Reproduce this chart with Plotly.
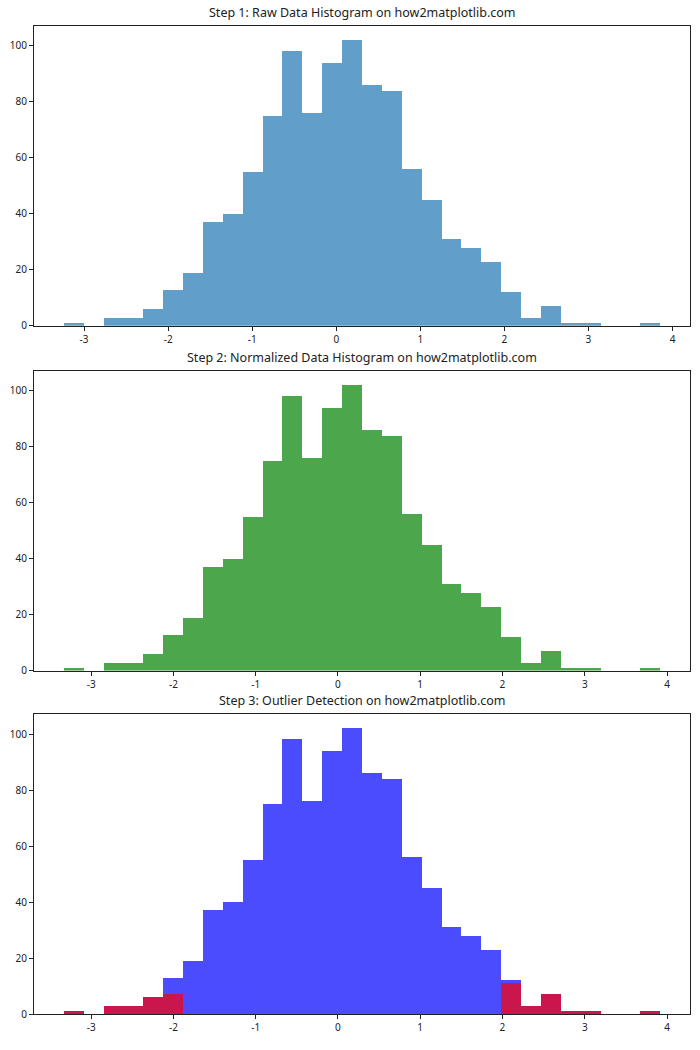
import numpy as np
import plotly.graph_objects as go

# ---- data ----
counts = [1, 0, 3, 3, 6, 13, 19, 37, 40, 55, 75, 98, 76, 94, 102,
          86, 84, 56, 45, 31, 28, 23, 12, 3, 7, 1, 1, 0, 0, 1]
outlier_counts = [1, 0, 3, 3, 6, 7, 0, 0, 0, 0, 0, 0, 0, 0, 0,
                  0, 0, 0, 0, 0, 0, 0, 11, 3, 7, 1, 1, 0, 0, 1]
raw_range = [-3.241, 3.853]
norm_range = [-3.332, 3.917]
titles = ["Step 1: Raw Data Histogram on how2matplotlib.com",
          "Step 2: Normalized Data Histogram on how2matplotlib.com",
          "Step 3: Outlier Detection on how2matplotlib.com"]
x_ticks = [-3, -2, -1, 0, 1, 2, 3, 4]
x_tick_labels = ["-3", "-2", "-1", "0", "1", "2", "3", "4"]
y_ticks = [0, 20, 40, 60, 80, 100]

W, H = 700, 1050
FONT = "Noto Sans"


def bins(rng, n):
    edges = np.linspace(rng[0], rng[1], n + 1)
    return (edges[:-1] + edges[1:]) / 2, edges[1] - edges[0]


def pad(rng):
    span = rng[1] - rng[0]
    return [rng[0] - 0.05 * span, rng[1] + 0.05 * span]


fig = go.Figure()

raw_c, raw_w = bins(raw_range, len(counts))
norm_c, norm_w = bins(norm_range, len(counts))

fig.add_trace(go.Bar(x=raw_c, y=counts, width=raw_w, marker=dict(color="#1f77b4", line_width=0),
                     opacity=0.7, xaxis="x", yaxis="y"))
fig.add_trace(go.Bar(x=norm_c, y=counts, width=norm_w, marker=dict(color="green", line_width=0),
                     opacity=0.7, xaxis="x2", yaxis="y2"))
fig.add_trace(go.Bar(x=norm_c, y=counts, width=norm_w, marker=dict(color="blue", line_width=0),
                     opacity=0.7, xaxis="x3", yaxis="y3"))
fig.add_trace(go.Bar(x=norm_c, y=outlier_counts, width=norm_w, marker=dict(color="red", line_width=0),
                     opacity=0.7, xaxis="x3", yaxis="y3"))

# pixel boxes of the three axes (top, bottom)
left_px, right_px = 34, 690
boxes = [(26, 328), (373, 675), (719, 1021)]
xdom = [left_px / W, right_px / W]

axis_common = dict(showgrid=False, zeroline=False, showline=True, mirror=True,
                   linecolor="#222222", linewidth=1, ticks="outside", ticklen=4,
                   tickcolor="#222222", tickwidth=1,
                   tickfont=dict(family=FONT, size=10, color="#222222"))

ymax = max(counts) * 1.05
layout = dict(width=W, height=H, margin=dict(l=0, r=0, t=0, b=0),
              plot_bgcolor="white", paper_bgcolor="white", showlegend=False,
              barmode="overlay", bargap=0, font=dict(family=FONT))
annotations = []
for i, (top, bot) in enumerate(boxes):
    sfx = "" if i == 0 else str(i + 1)
    ydom = [1 - bot / H, 1 - top / H]
    xr = pad(raw_range) if i == 0 else pad(norm_range)
    layout["xaxis" + sfx] = dict(domain=xdom, range=xr, tickvals=x_ticks, ticktext=x_tick_labels,
                                 anchor="y" + sfx, **axis_common)
    layout["yaxis" + sfx] = dict(domain=ydom, range=[0, ymax], tickvals=y_ticks,
                                 anchor="x" + sfx, **axis_common)
    annotations.append(dict(text=titles[i], x=(xdom[0] + xdom[1]) / 2, y=ydom[1],
                            xref="paper", yref="paper", xanchor="center", yanchor="bottom",
                            yshift=3, showarrow=False,
                            font=dict(family=FONT, size=12.5, color="#222222")))
layout["annotations"] = annotations
fig.update_layout(**layout)

fig.write_html("out.html")
